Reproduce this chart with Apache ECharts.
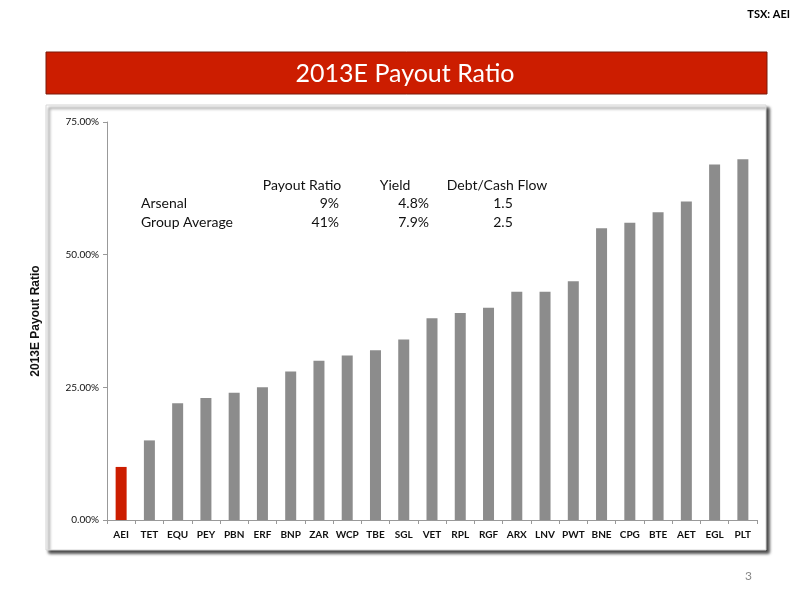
<!DOCTYPE html>
<html><head><meta charset="utf-8">
<script src="https://cdn.jsdelivr.net/npm/echarts@6/dist/echarts.min.js"></script>
<style>html,body{margin:0;padding:0;background:#fff;}#c{width:800px;height:600px;}</style>
</head><body><div id="c"></div>
<script>
const categories = ['AEI','TET','EQU','PEY','PBN','ERF','BNP','ZAR','WCP','TBE','SGL','VET','RPL','RGF','ARX','LNV','PWT','BNE','CPG','BTE','AET','EGL','PLT'];
const payoutRatio = [10,15,22,23,24,25,28,30,31,32,34,38,39,40,43,43,45,55,56,58,60,67,68];
const highlightCompany = 'AEI';
const yTicks = [0,25,50,75];
const tableHeader = ['Payout Ratio','Yield','Debt/Cash Flow'];
const tableRowNames = ['Arsenal','Group Average'];
const tablePayout = ['9%','41%'];
const tableYield = ['4.8%','7.9%'];
const tableDebt = ['1.5','2.5'];

const chart = echarts.init(document.getElementById('c'));
const FONT = 'Lato';
const graphics = [
  {type:'rect', shape:{x:46,y:105,width:720,height:445}, style:{fill:'#fff', stroke:'#d8d8d8', lineWidth:1, shadowBlur:3, shadowOffsetX:3, shadowOffsetY:3, shadowColor:'rgba(0,0,0,0.75)'}, z:-10},
  {type:'rect', shape:{x:46,y:52,width:721,height:42}, style:{fill:'#CC1D00', stroke:'#7a1a0a', lineWidth:1}, z:-5},
  {type:'text', x:405, y:74, style:{text:'2013E Payout Ratio', fill:'#fff', font:'25px '+FONT, align:'center', verticalAlign:'middle'}},
  {type:'text', x:790, y:14, style:{text:'TSX: AEI', fill:'#000', font:'bold 11px '+FONT, align:'right', verticalAlign:'middle'}},
  {type:'text', x:752, y:576, style:{text:'3', fill:'#888', font:'12px '+FONT, align:'right', verticalAlign:'middle'}}
];
const rowY = [203,222];
const hdrY = 185;
const TF = '14px '+FONT;
graphics.push({type:'text', x:302, y:hdrY, style:{text:tableHeader[0], fill:'#111', font:TF, align:'center', verticalAlign:'middle'}});
graphics.push({type:'text', x:395, y:hdrY, style:{text:tableHeader[1], fill:'#111', font:TF, align:'center', verticalAlign:'middle'}});
graphics.push({type:'text', x:497, y:hdrY, style:{text:tableHeader[2], fill:'#111', font:TF, align:'center', verticalAlign:'middle'}});
tableRowNames.forEach((n,i)=>{
  graphics.push({type:'text', x:141, y:rowY[i], style:{text:n, fill:'#111', font:TF, align:'left', verticalAlign:'middle'}});
  graphics.push({type:'text', x:339, y:rowY[i], style:{text:tablePayout[i], fill:'#111', font:TF, align:'right', verticalAlign:'middle'}});
  graphics.push({type:'text', x:429, y:rowY[i], style:{text:tableYield[i], fill:'#111', font:TF, align:'right', verticalAlign:'middle'}});
  graphics.push({type:'text', x:503, y:rowY[i], style:{text:tableDebt[i], fill:'#111', font:TF, align:'center', verticalAlign:'middle'}});
});

chart.setOption({
  animation:false,
  backgroundColor:'#fff',
  grid:{left:107, right:43, top:122, bottom:80, containLabel:false},
  xAxis:{type:'category', data:categories,
    axisLine:{show:true, lineStyle:{color:'#999', width:1}},
    axisTick:{show:true, length:4, alignWithLabel:false, lineStyle:{color:'#999'}},
    axisLabel:{color:'#111', fontSize:10, fontWeight:'bold', fontFamily:FONT, margin:10, interval:0}},
  yAxis:{type:'value', min:yTicks[0], max:yTicks[yTicks.length-1], interval:yTicks[1]-yTicks[0],
    name:'2013E Payout Ratio', nameLocation:'middle', nameRotate:90, nameGap:65,
    nameTextStyle:{fontFamily:'Liberation Sans', fontWeight:'bold', fontSize:12, color:'#111'},
    axisLine:{show:true, lineStyle:{color:'#999', width:1}},
    axisTick:{show:true, length:4, lineStyle:{color:'#999'}},
    splitLine:{show:false},
    axisLabel:{color:'#111', fontSize:10, fontFamily:FONT, margin:8, formatter:v=>v.toFixed(2)+'%'}},
  series:[{type:'bar', data:payoutRatio, barWidth:11,
    itemStyle:{color:p=>categories[p.dataIndex]===highlightCompany?'#CC1D00':'#8C8C8C'}}],
  graphic:graphics
});
</script></body></html>
